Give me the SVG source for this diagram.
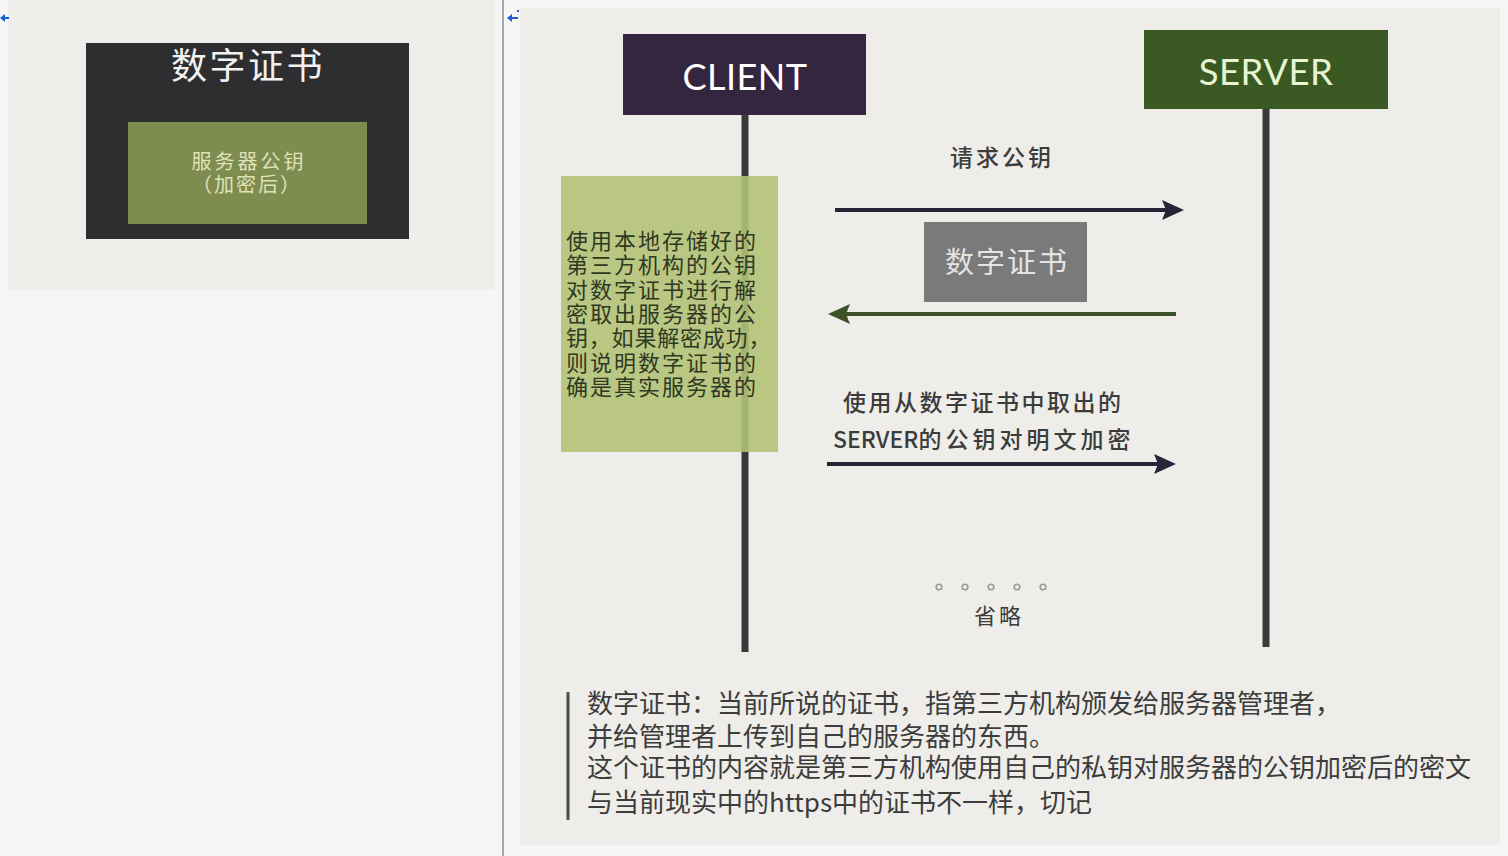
<svg xmlns="http://www.w3.org/2000/svg" width="1508" height="856" viewBox="0 0 1508 856">
<defs>
<style>
.cjk{font-family:"Noto Sans CJK SC","Noto Sans",sans-serif;}
.lat{font-family:Lato,"Open Sans","Noto Sans CJK SC",sans-serif;}
.dark{fill:#3c3c3c;}
.life{stroke:#3a3a3a;stroke-width:7;}
.dot{fill:none;stroke:#9a9a9a;stroke-width:1.6;}
</style>
<marker id="ahDark" markerWidth="5.5" markerHeight="5" refX="4.5" refY="2.5" orient="auto" markerUnits="strokeWidth">
<path d="M0,0 L5.5,2.5 L0,5 L1,2.5 Z" fill="#2a2438"/>
</marker>
<marker id="ahGreen" markerWidth="5.5" markerHeight="5" refX="4.5" refY="2.5" orient="auto" markerUnits="strokeWidth">
<path d="M0,0 L5.5,2.5 L0,5 L1,2.5 Z" fill="#3d5228"/>
</marker>
</defs>
<rect width="1508" height="856" fill="#f6f6f6"/>
<rect x="8" y="0" width="487" height="290" fill="#efeeea"/>
<rect x="520" y="8" width="980" height="837" fill="#eeede9"/>
<line x1="503" y1="0" x2="503" y2="856" stroke="#a8a8a8" stroke-width="2"/>
<g id="anchor-left"><path d="M0,18 L5,14 L5,17 L9,17 L9,19 L5,19 L5,22 Z" fill="#1a5fd6"/></g>
<g id="anchor-right"><path d="M507,18 L512,14 L512,17 L518,17 L518,19 L512,19 L512,22 Z" fill="#1a5fd6"/><rect x="517" y="10" width="2" height="2" fill="#1a5fd6"/></g>

<g id="cert-card">
<rect x="86" y="43" width="323" height="196" fill="#2e2d30"/>
<text x="248" y="79" text-anchor="middle" class="cjk" font-size="36" letter-spacing="2.5" fill="#f2f2f2">数字证书</text>
<rect x="128" y="122" width="239" height="102" fill="#7f8c4f"/>
<text x="249" y="169" text-anchor="middle" class="cjk" font-size="20" letter-spacing="3" fill="#dfe2b8">服务器公钥</text>
<text x="247" y="192" text-anchor="middle" class="cjk" font-size="20" letter-spacing="2" fill="#dfe2b8">（加密后）</text>
</g>

<g id="client">
<rect x="623" y="34" width="243" height="81" fill="#35263f"/>
<text x="745" y="90" text-anchor="middle" class="lat" font-size="36" fill="#ffffff" letter-spacing="0.5">CLIENT</text>
</g>
<g id="server">
<rect x="1144" y="30" width="244" height="79" fill="#3b5a23"/>
<text x="1266" y="85" text-anchor="middle" class="lat" font-size="36.5" fill="#e8f4d4" letter-spacing="0.5">SERVER</text>
</g>

<g id="lifelines">
<line x1="745" y1="115" x2="745" y2="652" class="life"/>
<line x1="1266" y1="109" x2="1266" y2="647" class="life"/>
</g>

<g id="client-note">
<rect x="561" y="176" width="217" height="276" fill="#b2c278" opacity="0.9"/>
<g class="cjk" font-size="22" letter-spacing="2" fill="#2f3822">
<text x="566" y="249">使用本地存储好的</text>
<text x="566" y="273">第三方机构的公钥</text>
<text x="566" y="298">对数字证书进行解</text>
<text x="566" y="322">密取出服务器的公</text>
<text x="566" y="346" letter-spacing="0.8">钥，如果解密成功，</text>
<text x="566" y="371">则说明数字证书的</text>
<text x="566" y="395">确是真实服务器的</text>
</g>
</g>

<g id="connectors">
<line x1="835" y1="210" x2="1180" y2="210" stroke="#2a2438" stroke-width="4" marker-end="url(#ahDark)"/>
<line x1="1176" y1="314" x2="832" y2="314" stroke="#3d5228" stroke-width="4" marker-end="url(#ahGreen)"/>
<line x1="827" y1="464" x2="1172" y2="464" stroke="#2a2438" stroke-width="4" marker-end="url(#ahDark)"/>
</g>

<g id="label-request">
<text x="1002" y="166" text-anchor="middle" class="cjk dark" font-size="23" letter-spacing="3" font-weight="500">请求公钥</text>
</g>
<g id="cert-msg">
<rect x="924" y="222" width="163" height="80" fill="#7a7a7a"/>
<text x="1007" y="273" text-anchor="middle" class="cjk" font-size="29" letter-spacing="2" fill="#e4e4e4">数字证书</text>
</g>
<g id="label-encrypt" class="cjk dark" font-size="23" font-weight="500">
<text x="843" y="411" letter-spacing="2.5">使用从数字证书中取出的</text>
<text x="833" y="448">SERVER<tspan letter-spacing="4">的公钥对明文加密</tspan></text>
</g>

<g id="omitted">
<circle cx="939" cy="587" r="2.8" class="dot"/>
<circle cx="965" cy="587" r="2.8" class="dot"/>
<circle cx="991" cy="587" r="2.8" class="dot"/>
<circle cx="1017" cy="587" r="2.8" class="dot"/>
<circle cx="1043" cy="587" r="2.8" class="dot"/>
<text x="999" y="624" text-anchor="middle" class="cjk dark" font-size="22" letter-spacing="3">省略</text>
</g>

<g id="footnote">
<line x1="568" y1="692" x2="568" y2="820" stroke="#4a4a4a" stroke-width="3"/>
<g class="cjk dark" font-size="26">
<text x="587" y="713">数字证书：当前所说的证书，指第三方机构颁发给服务器管理者，</text>
<text x="587" y="746">并给管理者上传到自己的服务器的东西。</text>
<text x="587" y="777">这个证书的内容就是第三方机构使用自己的私钥对服务器的公钥加密后的密文</text>
<text x="587" y="812">与当前现实中的https中的证书不一样，切记</text>
</g>
</g>
</svg>
